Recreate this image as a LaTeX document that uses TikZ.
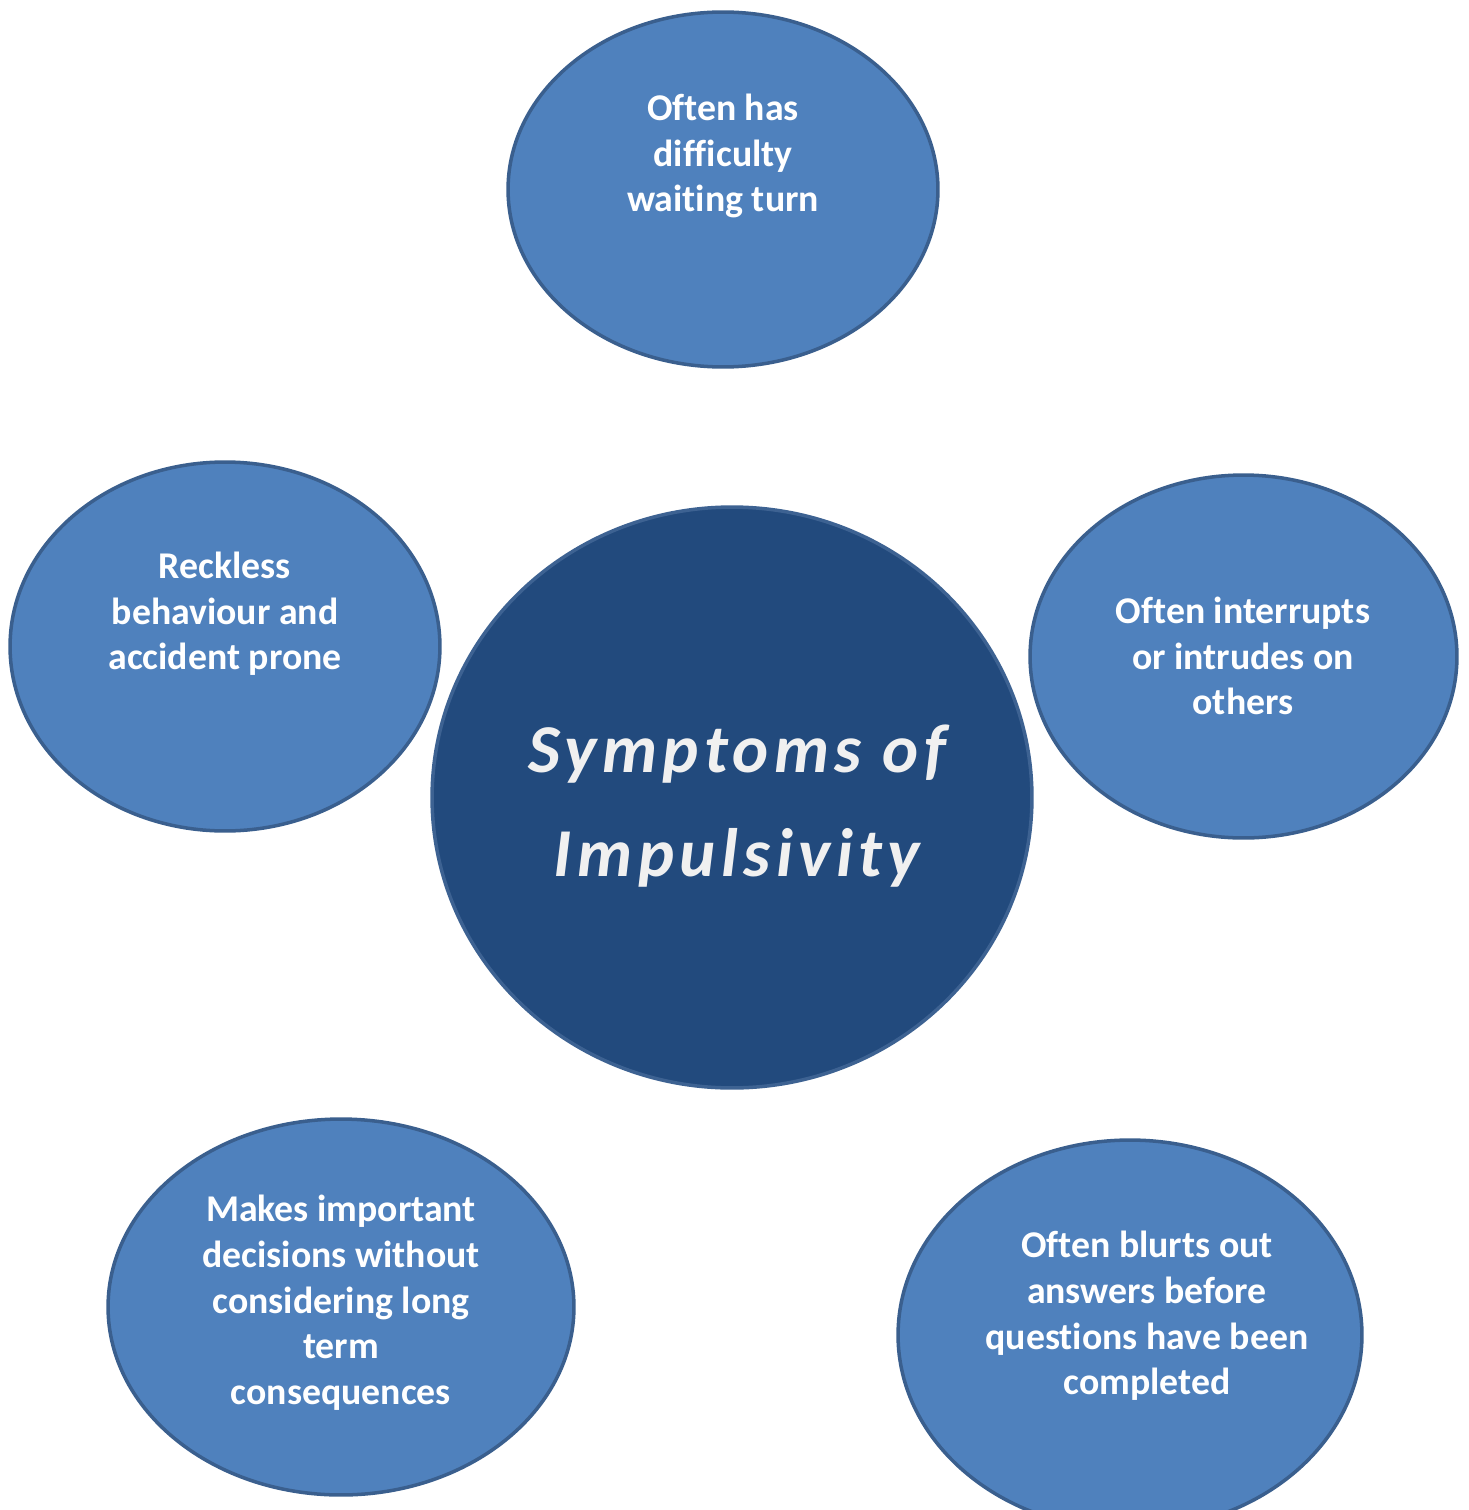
\documentclass[tikz,border=0pt]{standalone}
\usepackage{fontspec}
\setmainfont{Carlito}[Ligatures=NoCommon]
\newfontfamily\hubfont[LetterSpace=8]{Carlito}
\usetikzlibrary{shapes.geometric}
\definecolor{bubblefill}{HTML}{4F81BD}
\definecolor{bubbleline}{HTML}{3A5F8E}
\definecolor{hubfill}{HTML}{224A7D}
\definecolor{hubline}{HTML}{3D6292}
\tikzset{
  bubble/.style={ellipse, fill=bubblefill, draw=bubbleline, line width=2pt, inner sep=0pt},
  bubtext/.style={text=white, font=\fontsize{21.5}{26}\selectfont\bfseries, align=center},
  hubtext/.style={text=gray!12, font=\fontsize{39}{59}\selectfont\hubfont\bfseries\itshape, align=center}
}
\begin{document}
\begin{tikzpicture}[x=.02cm,y=-.02cm]
  \useasboundingbox (0,0) rectangle (1469,1510);
  \node[bubble, minimum width=8.6cm, minimum height=7.1cm] (wait) at (723,189.5) {};
  \node[bubble, minimum width=8.6cm, minimum height=7.38cm] (reckless) at (225,646.5) {};
  \node[bubble, minimum width=8.54cm, minimum height=7.26cm] (interrupt) at (1243.5,656.5) {};
  \node[bubble, minimum width=9.32cm, minimum height=7.52cm] (decide) at (341,1307) {};
  \node[bubble, minimum width=9.28cm, minimum height=7.8cm] (blurt) at (1130,1335) {};
  \node[bubble, fill=hubfill, draw=hubline, minimum width=12cm, minimum height=11.62cm] (hub) at (732,797.5) {};
  \node[bubtext] (waittext) at (723,156) {Often has\\difficulty\\waiting turn};
  \node[bubtext] (recklesstext) at (225,614) {Reckless\\behaviour and\\accident prone};
  \node[bubtext] (interrupttext) at (1243,656) {Often interrupts\\or intrudes on\\others};
  \node[bubtext] (decidetext) at (341,1303) {Makes important\\decisions without\\considering long\\term\\consequences};
  \node[bubtext] (blurttext) at (1147,1316) {Often blurts out\\answers before\\questions have been\\completed};
  \node[hubtext] (hubtitle) at (737,806) {Symptoms of\\Impulsivity};
\end{tikzpicture}
\end{document}
